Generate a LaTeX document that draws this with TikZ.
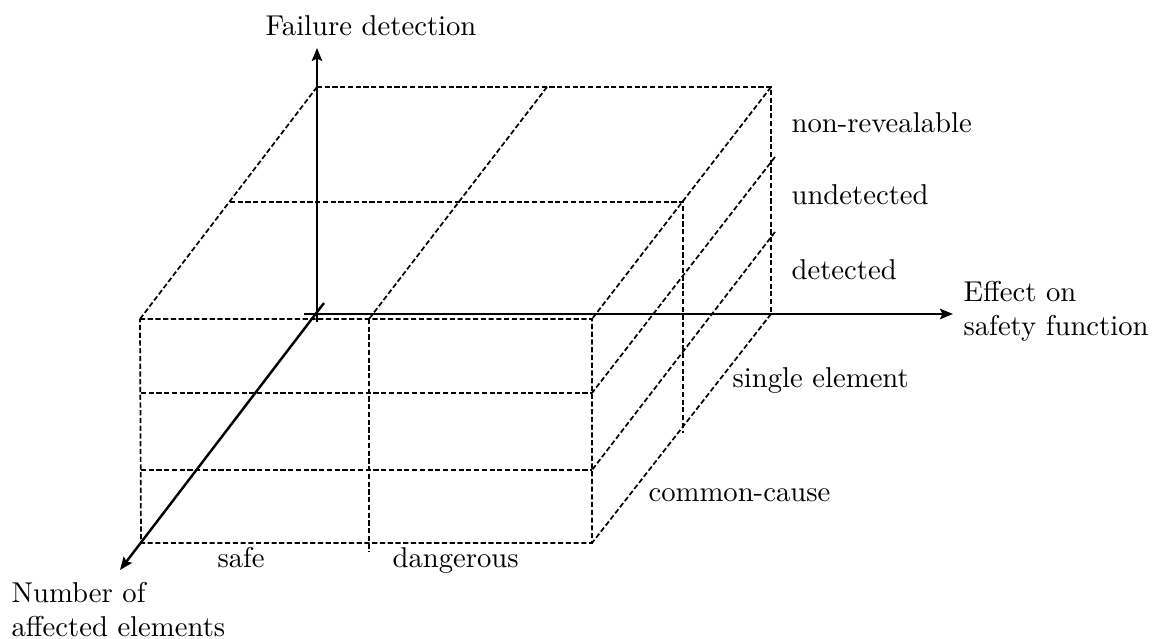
\documentclass[tikz,border=0pt]{standalone}
\usetikzlibrary{arrows,arrows.meta,positioning}
\begin{document}
\begin{tikzpicture}[x=0.01225cm, y=-0.01225cm, >={Stealth[length=4.5pt,width=3.6pt,inset=0.8pt]},
		axis/.style={->, line width=0.85pt},
		grid/.style={dash pattern=on 1.8pt off 0.9pt, line width=0.6pt},
		lbl/.style={anchor=base west, inner sep=0pt, align=left}]
		\useasboundingbox (0,0) rectangle (1166,639);
		% corners of the box
		\coordinate (btl) at (317,87);
		\coordinate (btm) at (547,87);
		\coordinate (btr) at (771,87);
		\coordinate (bbr) at (771,314);
		\coordinate (bml) at (230,202);
		\coordinate (bmr) at (683,202);
		\coordinate (bmb) at (683,433);
		\coordinate (sr1) at (775,157);
		\coordinate (sr2) at (775,232);
		\coordinate (ftl) at (140,319);
		\coordinate (ftm) at (369,319);
		\coordinate (ftr) at (592,319);
		\coordinate (fbl) at (141,543);
		\coordinate (fbm) at (369,552);
		\coordinate (fbr) at (592,543);
		\coordinate (fl1) at (141,393);
		\coordinate (fr1) at (592,393);
		\coordinate (fl2) at (141,470);
		\coordinate (fr2) at (592,470);
		% dashed grid
		\draw[grid] (btl) -- (btr) -- (bbr);
		\draw[grid] (btl) -- (ftl);
		\draw[grid] (btm) -- (ftm);
		\draw[grid] (btr) -- (ftr);
		\draw[grid] (bml) -- (bmr) -- (bmb);
		\draw[grid] (sr1) -- (fr1);
		\draw[grid] (sr2) -- (fr2);
		\draw[grid] (bbr) -- (fbr);
		\draw[grid] (ftl) -- (ftr) -- (fbr) -- (fbl) -- cycle;
		\draw[grid] (fl1) -- (fr1);
		\draw[grid] (fl2) -- (fr2);
		\draw[grid] (ftm) -- (fbm);
		% axes
		\coordinate (ybot) at (317,322);
		\coordinate (ytop) at (317,48);
		\coordinate (xbeg) at (304,314);
		\coordinate (xend) at (953,314);
		\coordinate (zbeg) at (324,303);
		\coordinate (zend) at (120,570);
		\draw[axis] (ybot) -- (ytop);
		\draw[axis] (xbeg) -- (xend);
		\draw[axis] (zbeg) -- (zend);
		% labels
		\node[lbl] (ylabel) at (265,36) {Failure detection};
		\node[lbl] (xlabel) at (963,336) {Effect on\\safety function};
		\node[lbl] (zlabel) at (11,637) {Number of\\affected elements};
		\node[lbl] (nonrev) at (791,133) {non-revealable};
		\node[lbl] (undet) at (791,205) {undetected};
		\node[lbl] (det) at (791,280) {detected};
		\node[lbl] (single) at (732,388) {single element};
		\node[lbl] (common) at (648,502) {common-cause};
		\node[lbl] (safe) at (217,568) {safe};
		\node[lbl] (danger) at (392,568) {dangerous};
	\end{tikzpicture}
\end{document}
